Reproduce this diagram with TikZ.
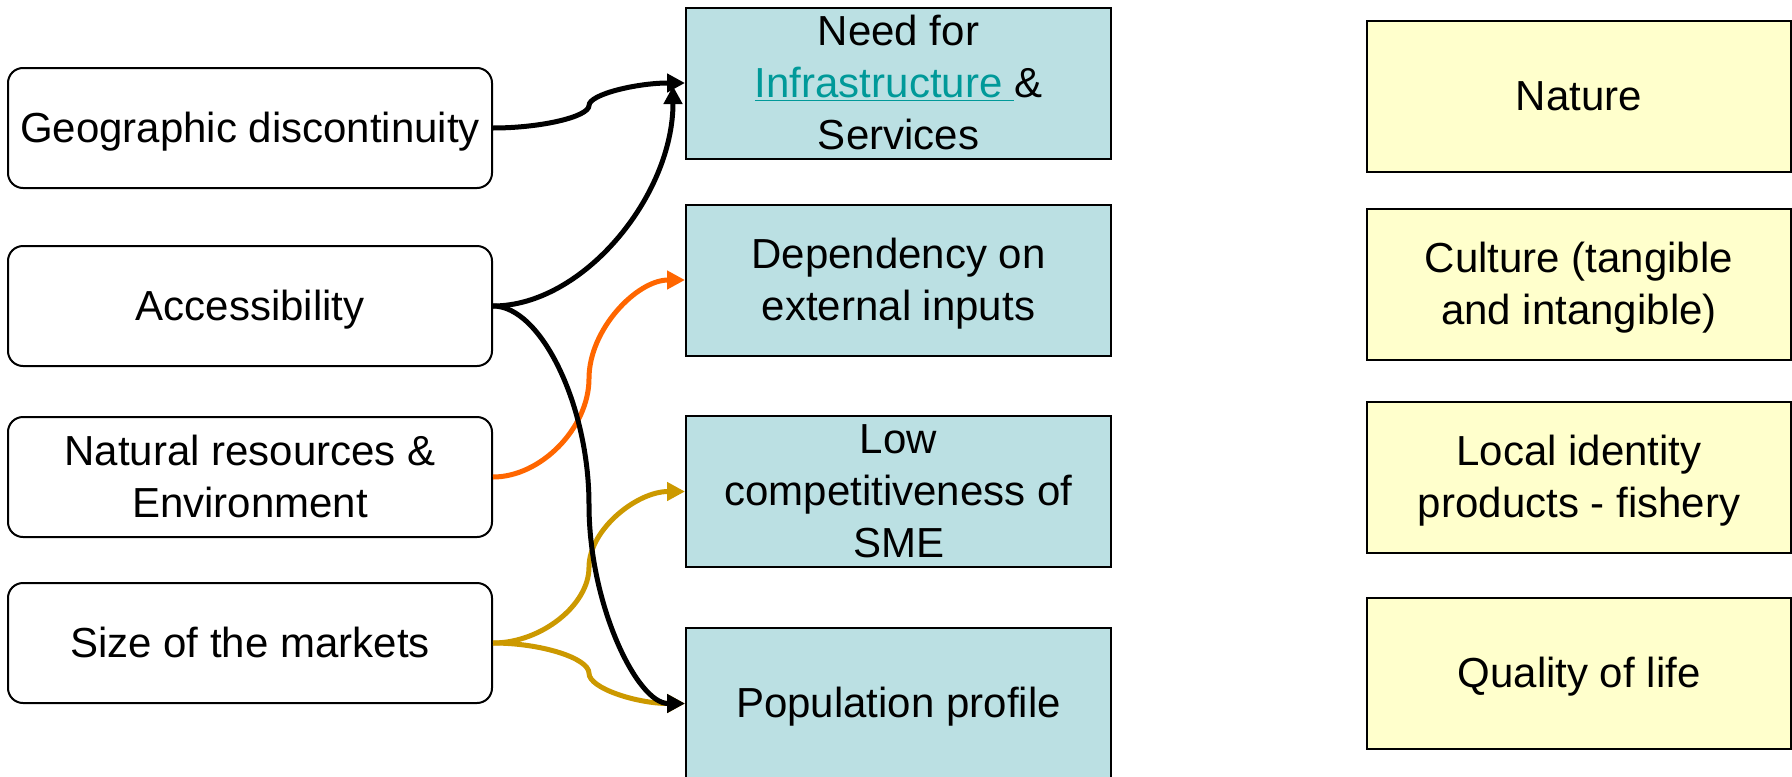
\documentclass[tikz,border=0pt]{standalone}
\usepackage{fontspec}
\setmainfont{Liberation Sans}
\usetikzlibrary{arrows.meta,calc}
\definecolor{midblue}{HTML}{BBE0E3}
\definecolor{ylw}{HTML}{FFFFCC}
\definecolor{linkc}{HTML}{009999}
\definecolor{orng}{HTML}{FF6600}
\definecolor{gold}{HTML}{CC9900}
\newcommand\T[1]{\raisebox{-2.5pt}[0.9\height][0.9\depth]{\begin{tabular}{@{}c@{}}#1\end{tabular}}}
\newcommand\cconn[3]{%
  \draw[conn,#3] let \p1=(#1.east), \p2=(#2.west),
    \n1={(\x1+\x2)/2}, \n2={(\y1+\y2)/2} in
    (\p1) .. controls ({(\x1+\n1*1pt)/2},\y1) and ({\n1*1pt},{\y1+(\y2-\y1)/4}) ..
    ({\n1*1pt},{\n2*1pt}) .. controls ({\n1*1pt},{\y1+3*(\y2-\y1)/4}) and ({(\n1*1pt+\x2)/2},\y2) .. (\p2);}
\begin{document}
\begin{tikzpicture}[x=0.5pt,y=-0.5pt,
  txt/.style={font=\fontsize{21pt}{26pt}\selectfont, align=center, inner sep=0pt},
  leftbox/.style={txt, draw=black, line width=1pt, rounded corners=7.5pt,
    minimum width=242pt, minimum height=60pt},
  midbox/.style={txt, draw=black, line width=1pt, fill=midblue,
    minimum width=212.5pt, minimum height=75.5pt},
  rightbox/.style={txt, draw=black, line width=1pt, fill=ylw,
    minimum width=212pt, minimum height=75.5pt},
  conn/.style={line width=2.5pt, -{Triangle[length=9pt,width=9pt]}}]
\useasboundingbox (0,0) rectangle (1792,776);
% left column
\node[leftbox] (geo) at (250,128) {\T{Geographic discontinuity}};
\node[leftbox] (acc) at (250,306) {\T{Accessibility}};
\node[leftbox] (nat) at (250,477) {\T{Natural resources \&\\Environment}};
\node[leftbox] (siz) at (250,643) {\T{Size of the markets}};
% middle column
\node[midbox] (need) at (898.5,83) {\T{Need for\\\textcolor{linkc}{\underline{Infrastructure\ }}\&\\Services}};
\node[midbox] (dep) at (898.5,280) {\T{Dependency on\\external inputs}};
\node[midbox] (low) at (898.5,491.5) {\T{Low\\competitiveness of\\SME}};
\node[midbox] (pop) at (898.5,703.5) {\T{Population profile}};
% right column
\node[rightbox] (nature) at (1579,96.5) {\T{Nature}};
\node[rightbox] (cult) at (1579,284.5) {\T{Culture (tangible\\and intangible)}};
\node[rightbox] (loc) at (1579,477) {\T{Local identity\\products - fishery}};
\node[rightbox] (qol) at (1579,673) {\T{Quality of life}};
% connectors
\coordinate (needin) at ($(need.west)+(-12,3)$);
\cconn{nat}{dep}{orng}
\cconn{siz}{low}{gold}
\cconn{siz}{pop}{gold}
\cconn{geo}{need}{black}
\draw[conn] let \p1=(acc.east), \p2=(needin) in
  (\p1) .. controls ({(\x1+\x2)/2},\y1) and (\x2,{(\y1+\y2)/2}) .. (\p2);
\cconn{acc}{pop}{black}
\end{tikzpicture}
\end{document}
